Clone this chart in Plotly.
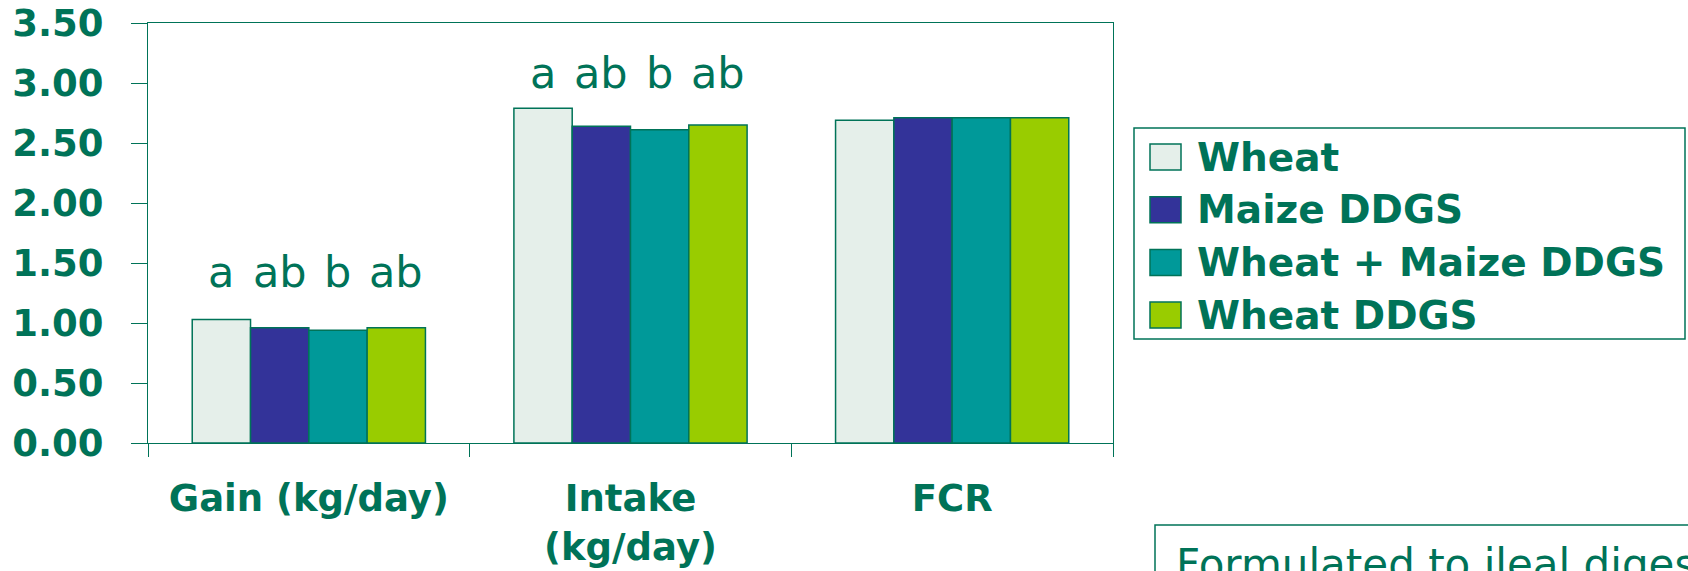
import plotly.graph_objects as go

# ---- data -------------------------------------------------------------
categories = ["Gain (kg/day)", "Intake<br>(kg/day)", "FCR"]
series_names = ["Wheat", "Maize DDGS", "Wheat + Maize DDGS", "Wheat DDGS"]

wheat = [1.03, 2.79, 2.69]
maize_ddgs = [0.96, 2.64, 2.71]
wheat_maize_ddgs = [0.94, 2.61, 2.71]
wheat_ddgs = [0.96, 2.65, 2.71]

# significance letters per series, one per category ("" = none shown)
wheat_sig = ["a", "a", ""]
maize_ddgs_sig = ["ab", "ab", ""]
wheat_maize_ddgs_sig = ["b", "b", ""]
wheat_ddgs_sig = ["ab", "ab", ""]

y_ticks = [0, 0.5, 1.0, 1.5, 2.0, 2.5, 3.0, 3.5]

# ---- style ------------------------------------------------------------
GREEN = "#007358"
colors = ["#E5EFEA", "#333399", "#009999", "#99CC00"]
FAMILY = "DejaVu Sans"

W, H = 1688, 571
PL, PR, PT, PB = 148, 1113, 23, 443
BARGAP = 0.275


def px_x(x):
    return (x - PL) / (PR - PL)


def px_y(y):
    return (PB - y) / (PB - PT)


def bold(size):
    return dict(family=FAMILY, size=size, color=GREEN, weight="bold")


values = [wheat, maize_ddgs, wheat_maize_ddgs, wheat_ddgs]
letters = [wheat_sig, maize_ddgs_sig, wheat_maize_ddgs_sig, wheat_ddgs_sig]

fig = go.Figure()
for name, vals, col in zip(series_names, values, colors):
    fig.add_trace(go.Bar(
        name=name, x=categories, y=vals,
        marker=dict(color=col, line=dict(color=GREEN, width=1.5)),
        showlegend=False,
    ))

# significance letters above each group of bars
n = len(series_names)
bar_w = (1 - BARGAP) / n
lift = [20, 8, 0]
annotations = []
for i, cat in enumerate(categories):
    top = max(v[i] for v in values)
    for j in range(n):
        txt = letters[j][i]
        if not txt:
            continue
        annotations.append(dict(
            x=i + (j - (n - 1) / 2) * bar_w, y=top, xref="x", yref="y",
            text=txt, showarrow=False, yanchor="bottom", xanchor="center",
            yshift=lift[i], font=dict(family=FAMILY, size=43, color=GREEN),
        ))

# legend: framed box with colour swatches
shapes = [dict(type="rect", xref="paper", yref="paper",
               x0=px_x(1134), x1=px_x(1685), y0=px_y(339), y1=px_y(128),
               line=dict(color=GREEN, width=1.5), fillcolor="white")]
for k, (name, col) in enumerate(zip(series_names, colors)):
    cy = 157 + k * 52.7
    shapes.append(dict(type="rect", xref="paper", yref="paper",
                       x0=px_x(1150), x1=px_x(1181),
                       y0=px_y(cy + 13), y1=px_y(cy - 13),
                       fillcolor=col, line=dict(color=GREEN, width=1.5)))
    annotations.append(dict(
        x=px_x(1195), y=px_y(cy), xref="paper", yref="paper",
        text=name, showarrow=False, xanchor="left", yanchor="middle",
        font=bold(39),
    ))

# note box in the lower right corner
shapes.append(dict(type="rect", xref="paper", yref="paper",
                   x0=px_x(1155), x1=px_x(1760), y0=px_y(620), y1=px_y(525),
                   line=dict(color=GREEN, width=1.5), fillcolor="white"))
annotations.append(dict(
    x=px_x(1174), y=px_y(538), xref="paper", yref="paper",
    text="Formulated to ileal digestible amino acids", showarrow=False,
    xanchor="left", yanchor="top",
    font=dict(family=FAMILY, size=42, color=GREEN),
))

fig.update_layout(
    width=W, height=H,
    margin=dict(l=PL, r=W - PR, t=PT, b=H - PB),
    paper_bgcolor="white", plot_bgcolor="white",
    barmode="group", bargap=BARGAP, bargroupgap=0,
    showlegend=False,
    shapes=shapes, annotations=annotations,
    xaxis=dict(
        showline=True, linecolor=GREEN, linewidth=1, mirror=True,
        ticks="outside", tickson="boundaries", ticklen=13, tickcolor=GREEN,
        tickfont=bold(37), automargin=False,
        ticklabelstandoff=23, showgrid=False,
    ),
    yaxis=dict(
        range=[0, 3.5], tickvals=y_ticks, tickformat=".2f",
        showline=True, linecolor=GREEN, linewidth=1, mirror=True,
        ticks="outside", ticklen=16, tickcolor=GREEN,
        tickfont=bold(37), automargin=False,
        ticklabelstandoff=20, showgrid=False, zeroline=False,
    ),
)

fig.write_html("out.html")
